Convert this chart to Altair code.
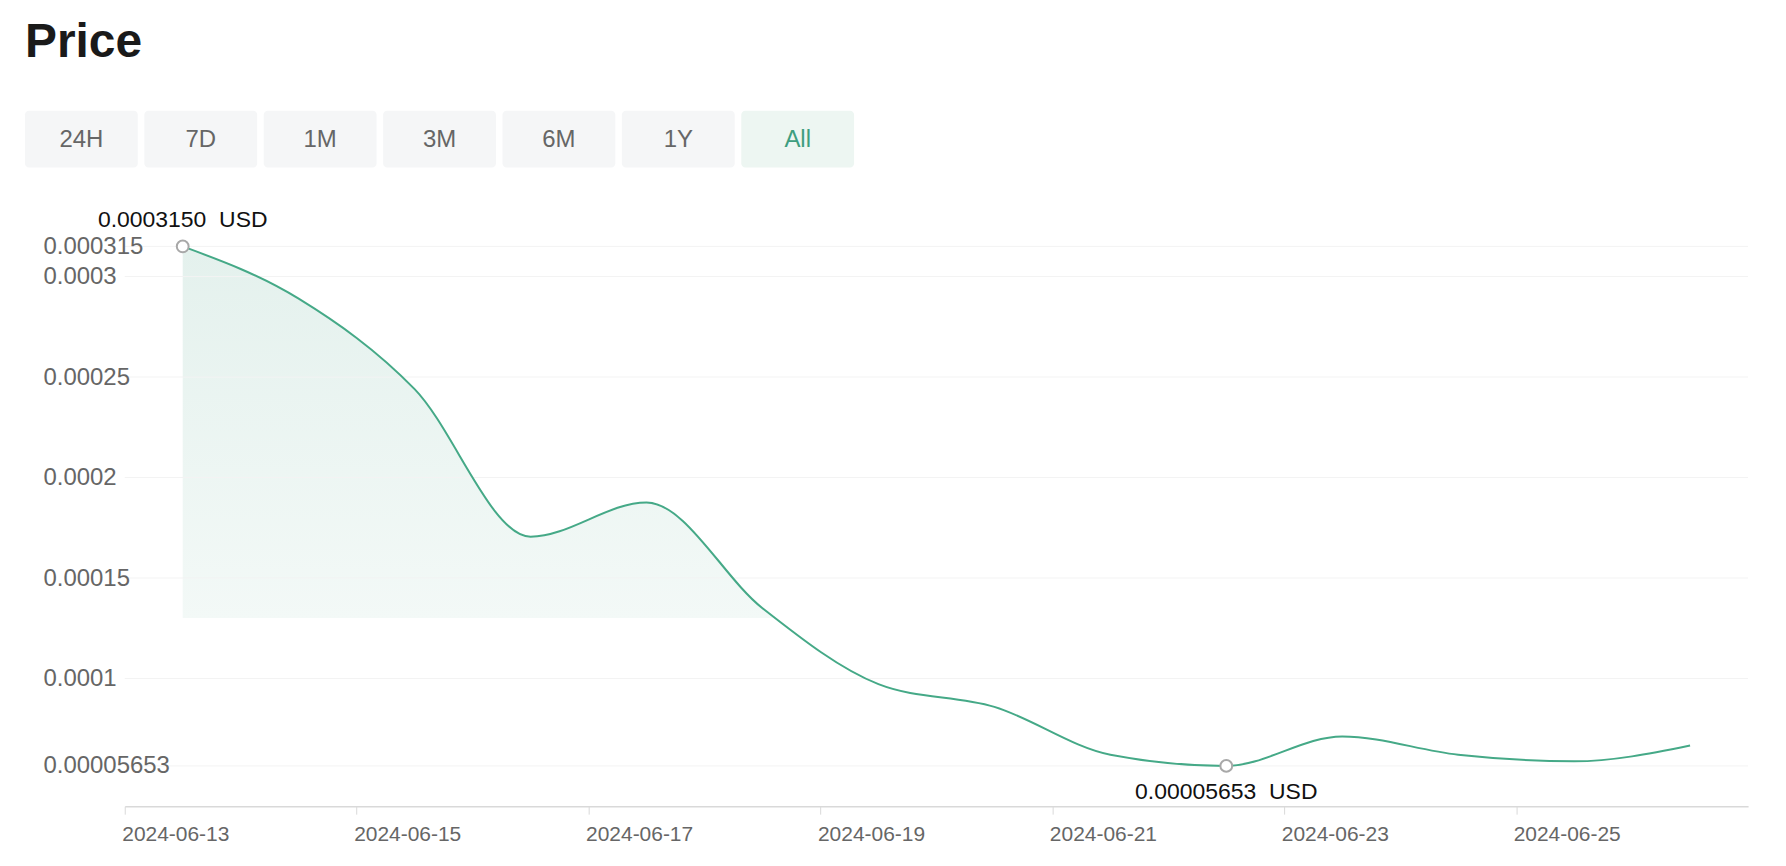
import altair as alt
import pandas as pd

# ---------------- data ----------------
dates = [
    "2024-06-13T12:00:00Z", "2024-06-14T12:00:00Z", "2024-06-15T12:00:00Z",
    "2024-06-16T12:00:00Z", "2024-06-17T12:00:00Z", "2024-06-18T12:00:00Z",
    "2024-06-19T12:00:00Z", "2024-06-20T12:00:00Z", "2024-06-21T12:00:00Z",
    "2024-06-22T12:00:00Z", "2024-06-23T12:00:00Z", "2024-06-24T12:00:00Z",
    "2024-06-25T12:00:00Z", "2024-06-26T12:00:00Z",
]
prices = [
    0.000315, 0.000289, 0.0002440, 0.0001706, 0.0001876, 0.000135,
    0.0000972, 0.0000859, 0.0000621, 0.00005653, 0.0000712, 0.0000621,
    0.0000588, 0.0000667,
]
y_ticks = [0.00005653, 0.0001, 0.00015, 0.0002, 0.00025, 0.0003, 0.000315]
x_ticks = ["2024-06-13", "2024-06-15", "2024-06-17", "2024-06-19",
           "2024-06-21", "2024-06-23", "2024-06-25"]
buttons = ["24H", "7D", "1M", "3M", "6M", "1Y", "All"]
active_button = "All"
title_text = "Price"
unit = "USD"
fill_base = 0.00013
y_min, y_max = 0.0000365, 0.000315
x_start, x_end = "2024-06-13", "2024-06-27"

# ---------------- style / layout ----------------
W, H = 1627, 561
LINE = "#45a987"
FONT = "Liberation Sans"
LABEL = "#666666"


def dt(s):
    return alt.DateTime(year=int(s[:4]), month=int(s[5:7]), date=int(s[8:10]), utc=True)


df = pd.DataFrame({"date": dates, "price": prices})
imax = int(df["price"].idxmax())
imin = int(df["price"].idxmin())
ann = pd.DataFrame({
    "date": [dates[imax], dates[imin]],
    "price": [prices[imax], prices[imin]],
    "label": [f"{prices[imax]:.7f}\u00a0 {unit}", f"{prices[imin]:.8f}\u00a0 {unit}"],
    "kind": ["max", "min"],
})

xscale = alt.Scale(type="utc", domain=[dt(x_start), dt(x_end)])
yscale = alt.Scale(domain=[y_min, y_max], zero=False, nice=False)

xaxis = alt.Axis(
    values=[dt(s) for s in x_ticks],
    labelExpr="utcFormat(datum.value, '%Y-%m-%d')",
    labelAlign="left", labelOffset=-3, labelPadding=9, labelBaseline="top",
    tickSize=8, tickColor="#d9d9d9", domainColor="#d9d9d9", domainWidth=1.5,
    labelColor=LABEL, labelFontSize=21, labelFont=FONT, grid=False,
    labelOverlap=False, labelFlush=False, zindex=1, title=None,
)
yaxis = alt.Axis(
    values=y_ticks, labelExpr="'' + datum.value", labelAlign="left",
    labelPadding=82, ticks=False, tickSize=0, domain=False, grid=False,
    labelColor=LABEL, labelFontSize=24, labelFont=FONT, labelOverlap=False,
    labelFlush=False, labelBaseline="middle", zindex=1, title=None,
)


def X(field="date"):
    return alt.X(f"{field}:T", scale=xscale, axis=xaxis)


def Y(field="price"):
    return alt.Y(f"{field}:Q", scale=yscale, axis=yaxis)


area = alt.Chart(df).mark_area(
    interpolate="monotone",
    color=alt.Gradient(
        gradient="linear",
        stops=[alt.GradientStop(color="#e4f1ed", offset=0),
               alt.GradientStop(color="#f3f9f7", offset=0.72),
               alt.GradientStop(color="#ffffff", offset=1)],
        x1=1, x2=1, y1=0, y2=1,
    ),
).encode(x=X(), y=Y(), y2=alt.datum(fill_base))

cover = alt.Chart(df).mark_rect(color="white").encode(
    x=alt.value(0), x2=alt.value(W), y=alt.datum(fill_base), y2=alt.datum(y_min)
)

grid = alt.Chart(pd.DataFrame({"v": y_ticks})).mark_rule(
    color="#f3f3f3", strokeWidth=1
).encode(y=Y("v"))

line = alt.Chart(df).mark_line(interpolate="monotone", color=LINE, strokeWidth=2).encode(
    x=X(), y=Y()
)

points = alt.Chart(ann).mark_point(
    shape="circle", filled=True, fill="white", stroke="#a8a8a8", strokeWidth=2,
    size=140, opacity=1,
).encode(x=X(), y=Y())

top_text = alt.Chart(ann).transform_filter("datum.kind == 'max'").mark_text(
    font=FONT, fontSize=23, color="#111111", baseline="middle", dy=-26
).encode(x=X(), y=Y(), text="label:N")

bot_text = alt.Chart(ann).transform_filter("datum.kind == 'min'").mark_text(
    font=FONT, fontSize=23, color="#111111", baseline="middle", dy=26
).encode(x=X(), y=Y(), text="label:N")

main = alt.layer(area, cover, grid, line, points, top_text, bot_text)

# ---------------- header: title + range buttons ----------------
bdf = pd.DataFrame({"label": buttons})
bx = alt.X("label:N", sort=buttons,
           scale=alt.Scale(range=[-100, 731], paddingInner=0.055, paddingOuter=0),
           axis=None)
is_active = f"datum.label == '{active_button}'"
brect = alt.Chart(bdf).mark_rect(cornerRadius=4).encode(
    x=bx, y=alt.value(-136), y2=alt.value(-79),
    color=alt.condition(is_active, alt.value("#edf6f2"), alt.value("#f5f6f7")),
)
btext = alt.Chart(bdf).mark_text(font=FONT, fontSize=24, baseline="middle").encode(
    x=bx, y=alt.value(-107), text="label:N",
    color=alt.condition(is_active, alt.value("#3e9e80"), alt.value("#666666")),
)
title = alt.Chart(pd.DataFrame({"t": [title_text]})).mark_text(
    align="left", baseline="alphabetic", font=FONT, fontSize=48,
    fontWeight="bold", color="#1a1a1a",
).encode(x=alt.value(-100), y=alt.value(-190), text="t:N")

header = alt.layer(brect, btext, title)

chart = alt.layer(main, header).resolve_scale(x="independent", y="independent").properties(
    width=W, height=H,
    padding={"left": 117, "top": 238, "right": 30, "bottom": 45},
    autosize=alt.AutoSizeParams(type="none"),
    background="white",
).configure_view(stroke=None)

chart.save("out.html", embed_options={"renderer": "svg", "actions": False})
